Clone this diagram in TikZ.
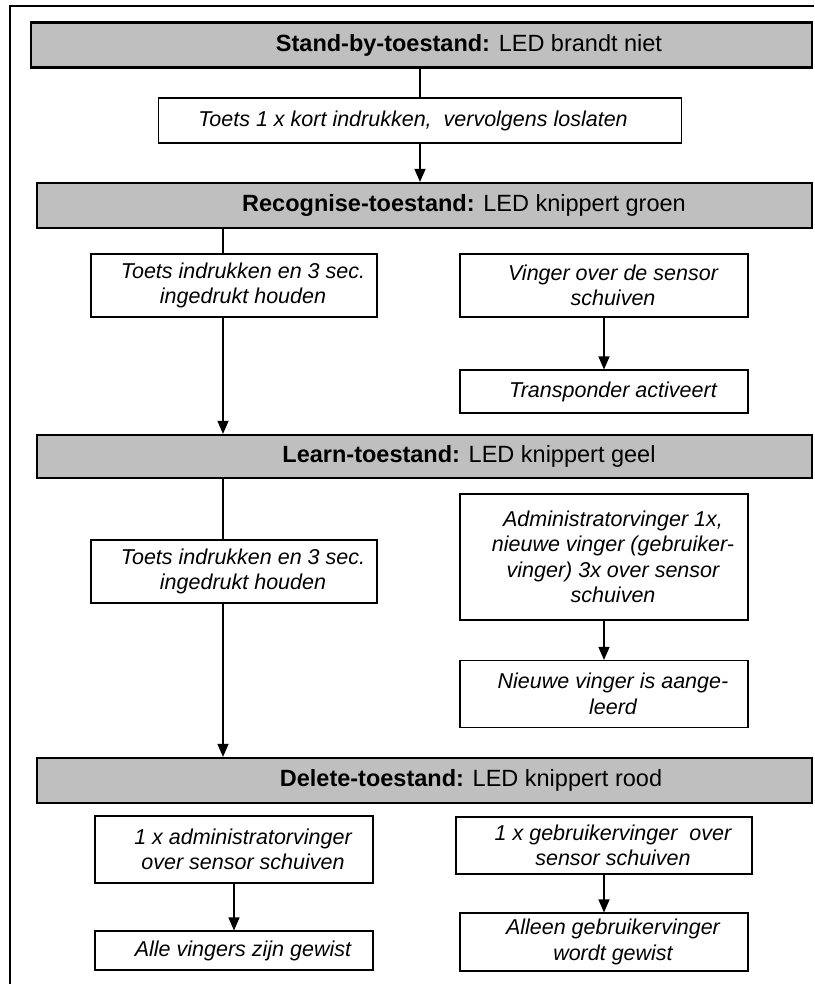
\documentclass[tikz,border=0pt]{standalone}
\usepackage{fontspec}
\setmainfont{Liberation Sans}
\usetikzlibrary{arrows.meta}

\tikzset{
  statebox/.style={draw=black, line width=2.2pt, fill=black!25, minimum height=45pt, inner sep=0pt},
  statetext/.style={inner sep=0pt, font=\fontsize{23.5}{27}\selectfont},
  action/.style={draw=black, line width=1.1pt, fill=white, inner sep=0pt},
  actiontext/.style={align=center, inner sep=0pt, xshift=9pt,
    font=\fontsize{21.5}{25.5}\selectfont\itshape},
  arr/.style={line width=1.2pt, -{Triangle[length=13pt,width=11pt]}},
  link/.style={line width=1.2pt},
}

\begin{document}
\begin{tikzpicture}[x=1pt,y=-1pt]
  \useasboundingbox (0,0) rectangle (814,984);
  % outer frame
  \draw[line width=1.6pt] (10,984) -- (10,6) -- (814,6);

  % states
  \node[statebox, minimum width=781pt] (standby) at (421.5,45) {};
  \node[statebox, minimum width=775pt] (recog) at (424.5,205.5) {};
  \node[statebox, minimum width=775pt, minimum height=43pt] (learn) at (424.5,456.5) {};
  \node[statebox, minimum width=775pt] (delete) at (424.5,780.5) {};

  \node[statetext] (standby-t) at (469,45) {\textbf{Stand-by-toestand:} LED brandt niet};
  \node[statetext] (recog-t) at (464,205) {\textbf{Recognise-toestand:} LED knippert groen};
  \node[statetext] (learn-t) at (469,456) {\textbf{Learn-toestand:} LED knippert geel};
  \node[statetext] (delete-t) at (471,780) {\textbf{Delete-toestand:} LED knippert rood};

  % actions
  \node[action, minimum width=523pt, minimum height=45pt,
    label={[actiontext, xshift=-16pt]center:{Toets 1 x kort indrukken,\ \ vervolgens loslaten}}]
    (press1) at (420,120.5) {};
  \node[action, minimum width=286pt, minimum height=63pt,
    label={[actiontext]center:{Toets indrukken en 3 sec.\\ingedrukt houden}}]
    (hold1) at (234,285.5) {};
  \node[action, minimum width=288pt, minimum height=63pt,
    label={[actiontext]center:{Vinger over de sensor\\schuiven}}]
    (swipe) at (604,285.5) {};
  \node[action, minimum width=288pt, minimum height=43pt,
    label={[actiontext]center:{Transponder activeert}}]
    (transp) at (604,391.5) {};
  \node[action, minimum width=286pt, minimum height=63pt,
    label={[actiontext]center:{Toets indrukken en 3 sec.\\ingedrukt houden}}]
    (hold2) at (234,571.5) {};
  \node[action, minimum width=288pt, minimum height=126pt,
    label={[actiontext]center:{Administratorvinger 1x,\\nieuwe vinger (gebruiker-\\vinger) 3x over sensor\\schuiven}}]
    (admin) at (604,557) {};
  \node[action, minimum width=288pt, minimum height=67pt,
    label={[actiontext]center:{Nieuwe vinger is aange-\\leerd}}]
    (newfinger) at (604,694) {};
  \node[action, minimum width=278pt, minimum height=67pt,
    label={[actiontext]center:{1 x administratorvinger\\over sensor schuiven}}]
    (deladmin) at (234,849.5) {};
  \node[action, minimum width=296pt, minimum height=57pt,
    label={[actiontext]center:{1 x gebruikervinger\ \ over\\sensor schuiven}}]
    (deluser) at (604,845.5) {};
  \node[action, minimum width=278pt, minimum height=39pt,
    label={[actiontext]center:{Alle vingers zijn gewist}}]
    (allgone) at (234,950.5) {};
  \node[action, minimum width=288pt, minimum height=58pt,
    label={[actiontext]center:{Alleen gebruikervinger\\wordt gewist}}]
    (usergone) at (604,942) {};

  % connectors
  \coordinate (lane) at (223,0);
  \draw[link] (standby.south -| press1) -- (press1.north);
  \draw[arr] (press1.south) -- (recog.north -| press1);
  \draw[link] (recog.south -| lane) -- (hold1.north -| lane);
  \draw[arr] (hold1.south -| lane) -- (learn.north -| lane);
  \draw[arr] (swipe.south) -- (transp.north);
  \draw[link] (learn.south -| lane) -- (hold2.north -| lane);
  \draw[arr] (hold2.south -| lane) -- (delete.north -| lane);
  \draw[arr] (admin.south) -- (newfinger.north);
  \draw[arr] (deladmin.south) -- (allgone.north);
  \draw[arr] (deluser.south) -- (usergone.north);
\end{tikzpicture}
\end{document}
